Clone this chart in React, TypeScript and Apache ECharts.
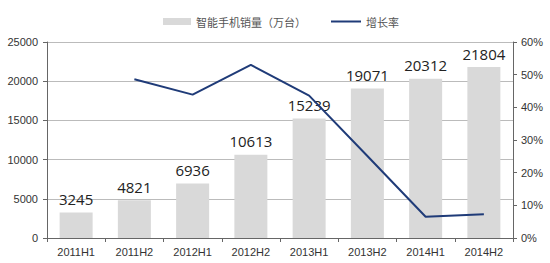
import React, { useEffect, useRef } from "react";
import * as echarts from "echarts";

const categories = ["2011H1", "2011H2", "2012H1", "2012H2", "2013H1", "2013H2", "2014H1", "2014H2"];
const sales = [3245, 4821, 6936, 10613, 15239, 19071, 20312, 21804];
const growth = [null, 48.6, 43.9, 53.0, 43.6, 25.1, 6.5, 7.3];

export default function App() {
  const ref = useRef<HTMLDivElement>(null);
  useEffect(() => {
    const chart = echarts.init(ref.current!, undefined, { renderer: "svg" });
    const axisText = { color: "#333", fontSize: 11, fontFamily: "Liberation Sans, Arial" };
    const legendText = { color: "#555", fontSize: 11, fontFamily: "Noto Sans CJK SC" };
    chart.setOption({
      animation: false,
      backgroundColor: "#fff",
      legend: [
        {
          top: 11,
          left: 158,
          itemWidth: 28,
          itemHeight: 7,
          itemGap: 5,
          textStyle: legendText,
          data: [{ name: "智能手机销量（万台）", icon: "rect" }],
        },
        {
          top: 11,
          left: 326,
          itemWidth: 30,
          itemHeight: 2,
          textStyle: legendText,
          data: [{ name: "增长率", icon: "rect" }],
        },
      ],
      grid: { left: 47, right: 37, top: 42, bottom: 25 },
      xAxis: {
        type: "category",
        data: categories,
        axisLine: { lineStyle: { color: "#666", width: 1 } },
        axisTick: { show: true, alignWithLabel: false, length: 4, lineStyle: { color: "#666" } },
        axisLabel: { ...axisText, margin: 8 },
      },
      yAxis: [
        {
          type: "value",
          min: 0,
          max: 25000,
          interval: 5000,
          axisLine: { show: true, lineStyle: { color: "#666" } },
          axisTick: { show: true, inside: false, length: 4, lineStyle: { color: "#666" } },
          axisLabel: { ...axisText, margin: 9, formatter: (v: number) => String(v) },
          splitLine: { show: true, lineStyle: { color: "#bbb", width: 1 } },
        },
        {
          type: "value",
          min: 0,
          max: 60,
          interval: 10,
          position: "right",
          axisLine: { show: true, lineStyle: { color: "#666" } },
          axisTick: { show: true, length: 4, lineStyle: { color: "#666" } },
          axisLabel: { ...axisText, margin: 8, formatter: "{value}%" },
          splitLine: { show: false },
        },
      ],
      series: [
        {
          name: "智能手机销量（万台）",
          type: "bar",
          data: sales,
          barWidth: 33,
          itemStyle: { color: "#d9d9d9" },
          label: {
            show: true,
            position: "top",
            distance: 6,
            color: "#222",
            fontSize: 15,
            fontFamily: "Open Sans, Liberation Sans",
          },
        },
        {
          name: "增长率",
          type: "line",
          yAxisIndex: 1,
          data: growth,
          symbol: "none",
          lineStyle: { color: "#1f3b78", width: 2 },
          itemStyle: { color: "#1f3b78" },
        },
      ],
    });
    return () => chart.dispose();
  }, []);
  return <div ref={ref} style={{ width: 550, height: 263, position: "absolute", left: 0, top: 0 }} />;
}
